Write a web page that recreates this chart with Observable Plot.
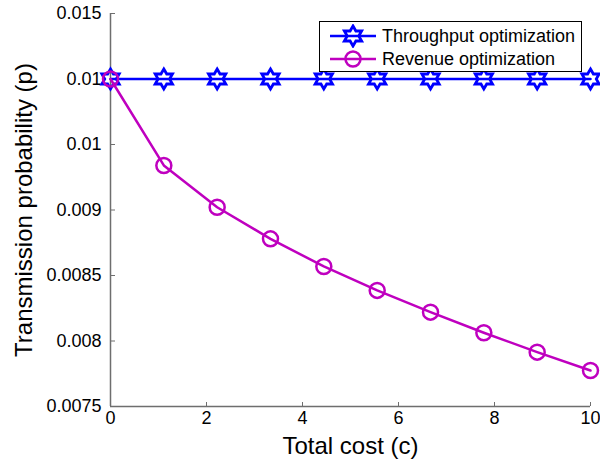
<!DOCTYPE html>
<html>
<head>
<meta charset="utf-8">
<script src="https://cdn.jsdelivr.net/npm/d3@7"></script>
<script src="https://cdn.jsdelivr.net/npm/@observablehq/plot@0.6"></script>
<style>
  body { margin: 0; background: #fff; }
  #chart { position: relative; width: 600px; height: 463px; font-family: "Liberation Sans", Arial, sans-serif; }
  #chart svg { display: block; }
  .legend { position: absolute; left: 319px; top: 21px; width: 261px; height: 49px; border: 1px solid #000; background: #fff; }
  .legend .row { position: absolute; left: 0; height: 24px; display: flex; align-items: center; }
  .legend .row svg { margin-left: 9px; }
  .legend .row span { margin-left: 5px; font-size: 18px; color: #000; white-space: nowrap; }
</style>
</head>
<body>
<div id="chart"></div>
<script>
// Total cost values on the x axis
const cost = [0, 1.111, 2.222, 3.333, 4.444, 5.556, 6.667, 7.778, 8.889, 10];
// Transmission probability for each strategy
const throughputP = [0.01, 0.01, 0.01, 0.01, 0.01, 0.01, 0.01, 0.01, 0.01, 0.01];
const revenueP = [0.01, 0.00934, 0.009021, 0.00878, 0.008569, 0.008386, 0.00822, 0.008063, 0.007915, 0.007775];

const seriesNames = ["Throughput optimization", "Revenue optimization"];
const seriesColors = ["#0000ff", "#bf00bf"];

const xTicks = [0, 2, 4, 6, 8, 10];
const yTicks = [0.0075, 0.008, 0.0085, 0.009, 0.0095, 0.01, 0.0105];
const yTickLabels = ["0.0075", "0.008", "0.0085", "0.009", "0.01", "0.01", "0.015"];

const xTitle = "Total cost (c)";
const yTitle = "Transmission probability (p)";

// Six-pointed star (hexagram) outline, point up
function hexagramPath(context, R) {
  const r = R / Math.sqrt(3);
  for (let k = 0; k < 12; ++k) {
    const a = -Math.PI / 2 + k * Math.PI / 6;
    const rad = k % 2 === 0 ? R : r;
    const px = rad * Math.cos(a), py = rad * Math.sin(a);
    if (k === 0) context.moveTo(px, py); else context.lineTo(px, py);
  }
  context.closePath();
}
const hexagram = { draw(context, size) { hexagramPath(context, Math.sqrt(size / Math.PI)); } };

const rows = [];
cost.forEach((c, i) => rows.push({ cost: c, p: throughputP[i], series: seriesNames[0] }));
cost.forEach((c, i) => rows.push({ cost: c, p: revenueP[i], series: seriesNames[1] }));
const tp = rows.filter(d => d.series === seriesNames[0]);
const rv = rows.filter(d => d.series === seriesNames[1]);

const W = 600, H = 463;
const M = { top: 13, right: 10, bottom: 57, left: 110 };
const frameW = W - M.left - M.right, frameH = H - M.top - M.bottom;
const axisGray = "#6e6e6e";

const plot = Plot.plot({
  width: W,
  height: H,
  marginTop: M.top,
  marginRight: M.right,
  marginBottom: M.bottom,
  marginLeft: M.left,
  style: { fontFamily: "Liberation Sans, Arial, sans-serif", color: "#000", background: "#fff" },
  x: { domain: [0, 10] },
  y: { domain: [0.0075, 0.0105] },
  marks: [
    Plot.ruleX([0], { stroke: axisGray, strokeWidth: 1.5 }),
    Plot.ruleY([0.0075], { stroke: axisGray, strokeWidth: 1.5 }),
    Plot.tickY(yTicks, { y: d => d, stroke: axisGray, insetRight: frameW - 5 }),
    Plot.tickX(xTicks, { x: d => d, stroke: axisGray, insetTop: frameH - 4 }),
    Plot.axisY(yTicks, {
      tickSize: 0, tickPadding: 9, fontSize: 18, label: null,
      tickFormat: d => yTickLabels[yTicks.indexOf(d)]
    }),
    Plot.axisX(xTicks, { tickSize: 0, tickPadding: 5, fontSize: 18, label: null, tickFormat: d => String(d) }),
    Plot.text([xTitle], { frameAnchor: "bottom", lineAnchor: "middle", textAnchor: "middle", dy: 40, fontSize: 24, fill: "#000" }),
    Plot.text([yTitle], { frameAnchor: "left", lineAnchor: "middle", textAnchor: "middle", dx: -86, rotate: -90, fontSize: 24, fill: "#000" }),
    Plot.line(tp, { x: "cost", y: "p", stroke: seriesColors[0], strokeWidth: 2.5 }),
    Plot.dot(tp, { x: "cost", y: "p", symbol: hexagram, r: 10, stroke: seriesColors[0], strokeWidth: 2.8, fill: "none" }),
    Plot.line(rv, { x: "cost", y: "p", stroke: seriesColors[1], strokeWidth: 2.5 }),
    Plot.dot(rv, { x: "cost", y: "p", symbol: "circle", r: 7.5, stroke: seriesColors[1], strokeWidth: 2.5, fill: "none" })
  ]
});

const chart = document.getElementById("chart");
chart.appendChild(plot);

// Legend box in the upper right of the plot area
const legend = d3.select(chart).append("div").attr("class", "legend");
seriesNames.forEach((name, i) => {
  const row = legend.append("div").attr("class", "row").style("top", (2 + i * 23) + "px");
  const s = row.append("svg").attr("width", 48).attr("height", 24);
  s.append("line").attr("x1", 1).attr("x2", 47).attr("y1", 12).attr("y2", 12)
    .attr("stroke", seriesColors[i]).attr("stroke-width", 2.5);
  if (i === 0) {
    const path = d3.path();
    hexagramPath(path, 10);
    s.append("path").attr("d", path.toString()).attr("transform", "translate(24,12)")
      .attr("fill", "none").attr("stroke", seriesColors[i]).attr("stroke-width", 2.8);
  } else {
    s.append("circle").attr("cx", 24).attr("cy", 12).attr("r", 7.5)
      .attr("fill", "none").attr("stroke", seriesColors[i]).attr("stroke-width", 2.5);
  }
  row.append("span").text(name);
});
</script>
</body>
</html>
